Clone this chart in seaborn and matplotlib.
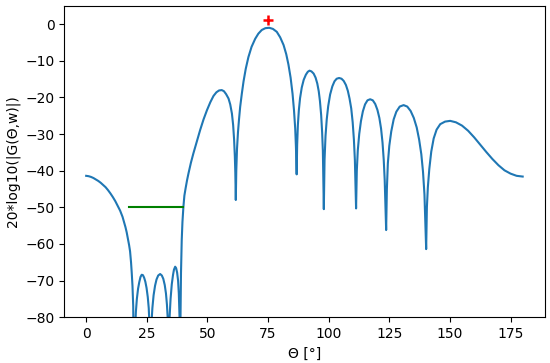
import numpy as np
import pandas as pd
import matplotlib
matplotlib.use("Agg")
import matplotlib.pyplot as plt
import seaborn as sns

# 빔 패턴 값
theta = [0, 1, 2, 3, 4, 5, 6, 7, 8, 9, 10, 11, 12, 13, 14, 15, 15.6, 16.2, 16.7,
         17.2, 17.7, 18.1, 18.5, 18.8, 19.1, 19.4, 19.8,
         20.0, 20.2, 20.5, 20.9, 21.4, 21.9, 22.4, 22.9, 23.4, 23.9, 24.4, 24.9,
         25.4, 25.8, 26.1, 26.4,
         26.6, 26.9, 27.3, 27.8, 28.4, 29.0, 29.7, 30.5, 31.2, 31.8, 32.4, 32.9,
         33.3, 33.6, 33.9,
         34.1, 34.4, 34.8, 35.3, 35.8, 36.2, 36.7, 37.1, 37.5, 37.9, 38.2, 38.5, 38.7,
         38.9, 39.1, 39.4, 39.7, 40.1, 40.5, 41.0, 41.6, 42.2, 43.2, 44.2, 45.5,
         47.0, 48.4, 49.8, 51.2, 52.5, 53.7, 54.8, 55.9, 56.8, 57.7, 58.7, 59.4,
         60.1, 60.6, 61.0, 61.3, 61.5, 61.7,
         61.9, 62.2, 62.6, 63.0, 63.5, 64.2, 64.9, 65.8, 66.9, 68.2, 69.7, 71.0,
         72.4, 73.9, 75.5, 77.0, 78.6, 80.0, 81.4, 82.5, 83.4, 84.3, 85.1, 85.7,
         86.2, 86.5, 86.8,
         87.0, 87.3, 87.7, 88.2, 88.9, 89.7, 90.6, 91.4, 92.1, 92.9, 93.8, 94.6,
         95.3, 95.9, 96.4, 96.9, 97.3, 97.6, 98.0,
         98.3, 98.7, 99.2, 99.8, 100.6, 101.5, 102.4, 103.3, 104.3, 105.3, 106.2,
         107.1, 107.9, 108.6, 109.3, 109.9, 110.4, 110.8, 111.3,
         111.6, 112.0, 112.6, 113.3, 114.1, 115.0, 116.0, 117.1, 118.2, 119.2,
         120.1, 120.9, 121.6, 122.2, 122.7, 123.1, 123.7,
         124.0, 124.4, 125.0, 125.8, 126.8, 127.9, 129.3, 130.9, 132.4, 133.8,
         135.1, 136.3, 137.3, 138.2, 138.9, 139.5, 140.2,
         140.5, 140.9, 141.5, 142.3, 143.3, 144.5, 146.0, 148.0, 150.1, 152.5,
         155.0, 157.5, 160.0, 162.5, 165.0, 167.5, 170.0, 172.5, 175.0, 177.5, 180]
gain_db = [-41.4, -41.5, -41.7, -42.0, -42.4, -42.8, -43.3, -43.9, -44.5, -45.3, -46.2,
           -47.2, -48.3, -49.6, -50.9, -52.6, -54.0, -55.4, -56.8,
           -58.5, -60.3, -62.0, -65.0, -68.0, -71.5, -77.0, -110,
           -90, -83, -78.5, -75.0, -72.2, -70.4, -69.0, -68.4, -68.5, -69.2, -70.3, -72.0,
           -74.5, -77.5, -82, -110,
           -90, -82, -77.5, -74.0, -71.4, -69.7, -68.6, -68.2, -68.6, -69.5, -71.2, -73.5,
           -76.5, -80, -110,
           -88, -80, -75.0, -71.0, -68.5, -67.0, -66.2, -66.6, -67.8, -70.0, -73.5, -80, -110,
           -80, -68, -59, -54, -49.8, -46.8, -44.8, -42.6, -40.7, -37.8, -35.3, -32.3,
           -28.9, -26.0, -23.5, -21.3, -19.6, -18.6, -18.1, -18.0, -18.3, -19.1, -20.3, -21.9,
           -24.4, -27.5, -31.5, -36.0, -40.5, -48.0,
           -40, -34, -29.5, -26.2, -22.6, -18.9, -15.6, -12.2, -9.0, -6.2, -4.0, -2.6,
           -1.6, -1.1, -1.0, -1.3, -2.1, -3.6, -5.7, -8.2, -11.0, -14.6, -19.0, -23.5,
           -28.5, -33.5, -41.0,
           -33, -27.5, -23.5, -20.2, -17.3, -15.2, -13.8, -13.0, -12.7, -12.9, -13.5, -14.6,
           -16.2, -18.3, -21.0, -24.8, -29.5, -34.5, -50.5,
           -37, -30.5, -26.0, -22.4, -19.2, -17.0, -15.6, -14.9, -14.7, -14.9, -15.5,
           -16.6, -18.2, -20.3, -23.0, -26.8, -31.5, -37.0, -50.3,
           -40, -34.5, -30.0, -26.5, -23.8, -21.9, -20.8, -20.5, -20.8, -21.8,
           -23.4, -25.6, -28.5, -32.3, -37.0, -42.5, -56.2,
           -45, -38, -33.2, -29.3, -26.0, -23.9, -22.5, -22.1, -22.5, -23.7,
           -25.6, -28.2, -31.5, -35.5, -40.3, -46.5, -61.4,
           -50, -44.5, -39.5, -34.8, -31.2, -28.8, -27.3, -26.6, -26.4, -26.8,
           -27.7, -29.1, -30.9, -32.9, -34.9, -36.8, -38.5, -39.9, -40.8, -41.4, -41.6]

# 목표 영역 / 최대값 표시
band_theta = [17.5, 40.0]
band_db = [-50, -50]
peak_theta = [75]
peak_db = [1]

df = pd.DataFrame({'theta': theta, 'gain': gain_db})

fig = plt.figure(figsize=(5.5, 3.63), dpi=100)
ax = fig.add_subplot(111)
fig.subplots_adjust(left=0.117, right=0.99, bottom=0.126, top=0.984)

sns.lineplot(data=df, x='theta', y='gain', ax=ax, color='#1f77b4', linewidth=1.5,
             estimator=None, sort=False)
ax.plot(band_theta, band_db, color='green', linewidth=1.5)
ax.plot(peak_theta, peak_db, 'r+', markersize=7, markeredgewidth=1.8)

ax.set_ylim(-80, 5)
ax.set_xlim(-9, 189)
ax.set_xticks([0, 25, 50, 75, 100, 125, 150, 175])
ax.set_yticks(np.arange(-80, 1, 10))
ax.set_xlabel('Θ [°]')
ax.set_ylabel('20*log10(|G(Θ,w)|)')

plt.savefig('out.png', dpi=100)
